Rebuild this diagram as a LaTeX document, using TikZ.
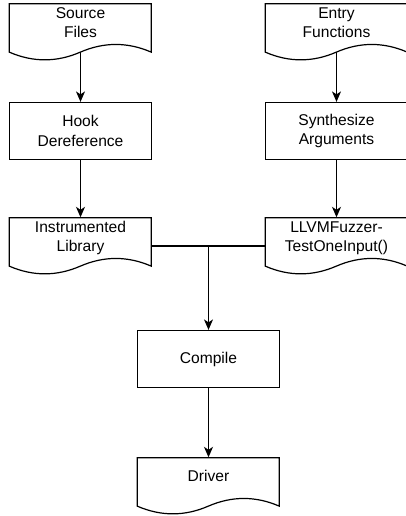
\documentclass[tikz,border=0pt]{standalone}
\usepackage{fontspec}
\setmainfont{Liberation Sans}
\usetikzlibrary{arrows.meta,calc}

% text of a document shape sits a little above the box centre
\newcommand\lifted[1]{\raisebox{8pt}[\height][\depth]{\begin{tabular}{@{}c@{}}#1\end{tabular}}}

% wavy outline of a document box (142 x 57, wave depth 17.1)
\newcommand\docoutline[1]{%
  \draw[outline, shift={(#1.south west)}, x=1pt, y=1pt]
    (0,57) -- (142,57) -- (142,8.55)
    .. controls (118.33,18.81) and (94.67,18.81) .. (71,8.55)
    .. controls (47.33,-1.71) and (23.67,-1.71) .. (0,8.55) -- cycle;}

\begin{document}
\begin{tikzpicture}[x=1pt, y=-1pt,
  every node/.style={font=\fontsize{15.6}{19.5}\selectfont, inner sep=0pt},
  outline/.style={line width=1.2pt, black, line join=miter},
  procbox/.style={draw, line width=1.2pt, minimum width=142pt, minimum height=57pt, align=center},
  docbox/.style={minimum width=142pt, minimum height=57pt},
  flow/.style={line width=1.2pt, -{Stealth[length=10.5pt, width=9pt, inset=3pt]}},
  link/.style={line width=1.2pt}]
\useasboundingbox (0,0) rectangle (406,516);

% left column
\node[docbox]  (src)   at (80.5,32)  {\lifted{Source\\Files}};
\node[procbox] (hook)  at (80.5,131) {Hook\\Dereference};
\node[docbox]  (instr) at (80.5,246) {\lifted{Instrumented\\Library}};

% right column
\node[docbox]  (entry) at (336.5,32)   {\lifted{Entry\\Functions}};
\node[procbox] (synth) at (336.5,131)  {Synthesize\\Arguments};
\node[docbox]  (llvm)  at (336.5,246)  {\lifted{LLVMFuzzer-\\TestOneInput()}};

% merged path
\node[procbox] (comp)  at (208.5,359)  {Compile};
\node[docbox]  (drv)   at (208.5,486)  {\lifted{Driver}};

\docoutline{src}
\docoutline{instr}
\docoutline{entry}
\docoutline{llvm}
\docoutline{drv}

\draw[flow] ($(src.south)+(0,8.55pt)$) -- (hook.north);
\draw[flow] ($(entry.south)+(0,8.55pt)$) -- (synth.north);
\draw[flow] (hook.south) -- (instr.north);
\draw[flow] (synth.south) -- (llvm.north);

\coordinate (join) at (instr.east -| comp.north);
\draw[link] (instr.east) -- (llvm.west);
\draw[flow] (join) -- (comp.north);
\draw[flow] (comp.south) -- (drv.north);
\end{tikzpicture}
\end{document}
